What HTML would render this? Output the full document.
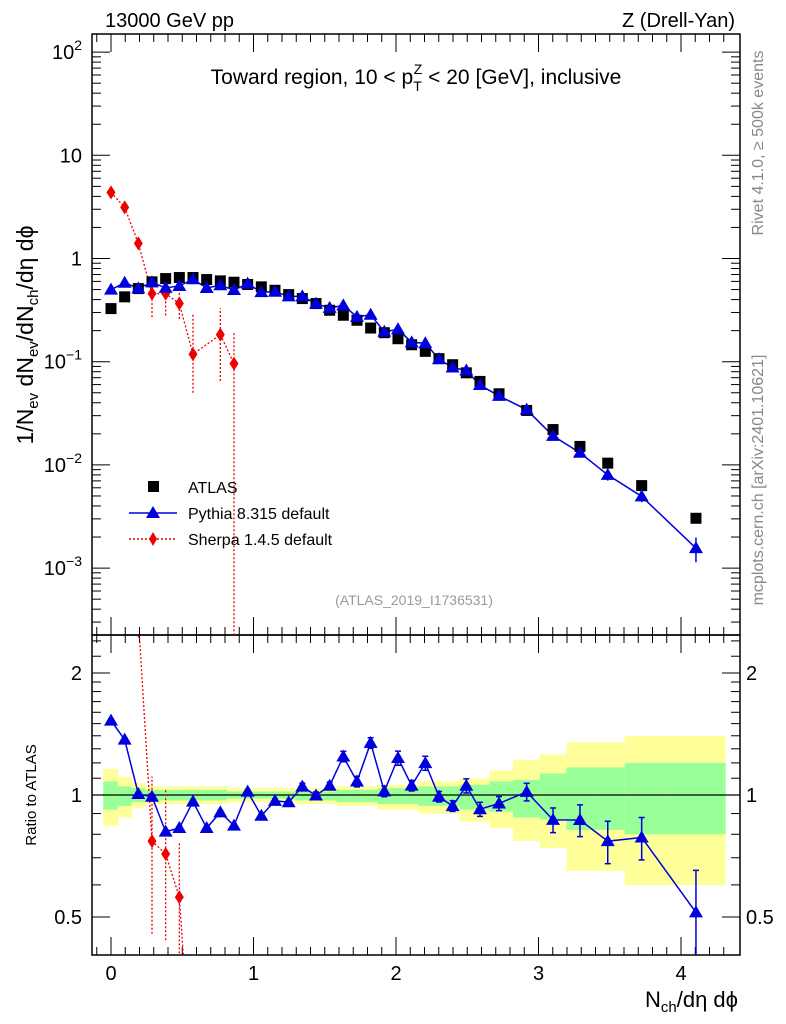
<!DOCTYPE html>
<html><head><meta charset="utf-8">
<style>
html,body{margin:0;padding:0;background:#fff;overflow:hidden;width:786px;height:1024px;}
svg{display:block;font-family:"Liberation Sans","DejaVu Sans",sans-serif;}
</style></head>
<body>
<svg id="chart" width="786" height="1024" viewBox="0 0 786 1024" xmlns="http://www.w3.org/2000/svg">
<g id="bands"></g>
<g id="frames"></g>
<g id="series"></g>
<g id="texts">
<text x="105" y="27" font-size="20">13000 GeV pp</text>
<text x="735" y="27" font-size="20" text-anchor="end">Z (Drell-Yan)</text>
<text x="416" y="84" font-size="21" text-anchor="middle">Toward region, 10 &lt; p<tspan font-size="14" dy="7">T</tspan><tspan font-size="14" dx="-8" dy="-17">Z</tspan><tspan dy="10"> &lt; 20 [GeV], inclusive</tspan></text>
<text transform="translate(33,335) rotate(-90)" font-size="23" text-anchor="middle">1/N<tspan font-size="15" dy="5">ev</tspan><tspan dy="-5"> dN</tspan><tspan font-size="15" dy="5">ev</tspan><tspan dy="-5">/dN</tspan><tspan font-size="15" dy="5">ch</tspan><tspan dy="-5">/dη dϕ</tspan></text>
<text transform="translate(36,795) rotate(-90)" font-size="15" text-anchor="middle">Ratio to ATLAS</text>
<text x="738" y="1007" font-size="22" text-anchor="end">N<tspan font-size="15" dy="5">ch</tspan><tspan dy="-5">/dη dϕ</tspan></text>
<text transform="translate(763,143) rotate(-90)" font-size="16" fill="#888" text-anchor="middle">Rivet 4.1.0, ≥ 500k events</text>
<text transform="translate(763,480) rotate(-90)" font-size="16" fill="#888" text-anchor="middle">mcplots.cern.ch [arXiv:2401.10621]</text>
<text x="414" y="605" font-size="14" fill="#999" text-anchor="middle">(ATLAS_2019_I1736531)</text>
</g>
<g id="legend">
<rect x="148" y="481" width="11" height="11" fill="#000"/>
<text x="188" y="493" font-size="16">ATLAS</text>
<line x1="129" y1="513" x2="177" y2="513" stroke="#0000dd" stroke-width="1.5"/>
<polygon points="153,506 160,518 146,518" fill="#0000dd"/>
<text x="188" y="519" font-size="16">Pythia 8.315 default</text>
<line x1="129" y1="539" x2="177" y2="539" stroke="#ee0000" stroke-width="1.5" stroke-dasharray="2,2"/>
<polygon points="153,532 157,539 153,546 149,539" fill="#ee0000"/>
<text x="188" y="545" font-size="16">Sherpa 1.4.5 default</text>
</g>
</svg>
<script>
const xVals=[0,0.0959,0.1918,0.2877,0.3836,0.4795,0.5754,0.6713,0.7672,0.8631,0.959,1.0549,1.1508,1.2467,1.3426,1.4385,1.5344,1.6303,1.7262,1.8221,1.918,2.0139,2.1098,2.2057,2.3016,2.3975,2.4934,2.5893,2.723,2.917,3.102,3.291,3.486,3.724,4.105];
const atlasVals=[0.327,0.425,0.511,0.594,0.639,0.654,0.654,0.625,0.607,0.589,0.560,0.531,0.492,0.447,0.409,0.366,0.315,0.282,0.252,0.212,0.191,0.167,0.146,0.126,0.107,0.0935,0.078,0.0644,0.0489,0.0337,0.0220,0.0151,0.0104,0.0063,0.00304];
const pythiaVals=[0.499,0.582,0.514,0.588,0.519,0.542,0.630,0.518,0.550,0.495,0.571,0.472,0.476,0.429,0.429,0.365,0.332,0.351,0.272,0.285,0.195,0.206,0.154,0.151,0.106,0.0878,0.0822,0.0594,0.0466,0.0343,0.0191,0.0131,0.0080,0.00495,0.00156];
const pythiaRelErr=[0.01,0.01,0.01,0.01,0.01,0.01,0.01,0.01,0.01,0.01,0.01,0.01,0.01,0.01,0.02,0.02,0.02,0.03,0.03,0.03,0.03,0.04,0.03,0.04,0.03,0.03,0.04,0.04,0.04,0.05,0.07,0.09,0.12,0.12,0.27];
const sherpaIdx=[0,1,2,3,4,5,6,8,9];
const sherpaVals=[4.37,3.13,1.40,0.457,0.457,0.366,0.118,0.183,0.0957];
const sherpaLo=[4.0,2.8,1.25,0.27,0.28,0.26,0.05,0.065,0.0001];
const sherpaHi=[4.7,3.5,1.55,0.66,0.66,0.50,0.29,0.33,0.19];
const yelUp=[.16,.11,.07,.05,.05,.05,.05,.05,.05,.04,.04,.04,.04,.04,.04,.04,.04,.05,.05,.05,.06,.06,.06,.08,.08,.08,.10,.10,.15,.22,.26,.35,.35,.40,.40];
const yelDn=[.16,.12,.07,.05,.05,.05,.05,.05,.05,.04,.04,.04,.04,.04,.05,.05,.05,.06,.06,.06,.08,.08,.08,.10,.10,.10,.14,.14,.17,.23,.26,.35,.35,.40,.40];
const grnUp=[.08,.05,.04,.03,.03,.03,.03,.03,.03,.02,.02,.02,.02,.02,.02,.02,.02,.03,.03,.03,.04,.04,.04,.05,.05,.05,.06,.06,.08,.09,.13,.17,.17,.20,.20];
const grnDn=[.08,.06,.04,.03,.03,.03,.03,.03,.03,.02,.02,.02,.02,.02,.03,.03,.03,.04,.04,.04,.05,.05,.05,.06,.06,.06,.08,.08,.09,.12,.13,.18,.18,.20,.20];
const xTicks=[0,1,2,3,4];
const mainTicks=[2,1,0,-1,-2,-3];
const ratioTicks=[2,1,0.5];

const NS="http://www.w3.org/2000/svg";
const L=92,R=740,MT=34,MB=635,RT=635,RB=955;
function X(v){return 111+v*142.5;}
function Y(v){return 258.5-Math.log10(v)*103.2;}
function YR(r){return 795-Math.log2(r)*122;}
function mk(tag,attrs,parent){const e=document.createElementNS(NS,tag);for(const k in attrs)e.setAttribute(k,attrs[k]);parent.appendChild(e);return e;}
const bands=document.getElementById('bands'),frames=document.getElementById('frames'),series=document.getElementById('series');

const edges=[];
for(let i=0;i<=xVals.length;i++){
  if(i===0)edges.push(xVals[0]-0.0545);
  else if(i===xVals.length)edges.push(4.31);
  else edges.push((xVals[i-1]+xVals[i])/2);
}
const defs=mk('defs',{},document.getElementById('chart'));
const cpM=mk('clipPath',{id:'cm'},defs);mk('rect',{x:L,y:MT,width:R-L,height:MB-MT},cpM);
const cpR=mk('clipPath',{id:'cr'},defs);mk('rect',{x:L,y:RT,width:R-L,height:RB-RT},cpR);

for(let i=0;i<xVals.length;i++){
  const x1=X(edges[i]),x2=X(edges[i+1]);
  const y=mk('rect',{x:x1,y:YR(1+yelUp[i]),width:x2-x1+0.5,height:YR(1-yelDn[i])-YR(1+yelUp[i]),fill:'#ffff99'},bands);
  
  
  const g=mk('rect',{x:x1,y:YR(1+grnUp[i]),width:x2-x1+0.5,height:YR(1-grnDn[i])-YR(1+grnUp[i]),fill:'#99ff99'},bands);
  
  
}
mk('line',{x1:L,y1:YR(1),x2:R,y2:YR(1),stroke:'#000','stroke-width':1.3},frames);

mk('rect',{x:L,y:MT,width:R-L,height:MB-MT,fill:'none',stroke:'#000','stroke-width':1.5},frames);
mk('rect',{x:L,y:RT,width:R-L,height:RB-RT,fill:'none',stroke:'#000','stroke-width':1.5},frames);
for(let v=-0.1;v<=4.35;v+=0.1){
  const vv=Math.round(v*10)/10;const major=Math.abs(vv-Math.round(vv))<1e-6;const len=major?18:8;const x=X(vv);
  if(x<L||x>R)continue;
  [[MT,1],[MB,-1],[RT,1],[RB,-1]].forEach(([y0,d])=>mk('line',{x1:x,y1:y0,x2:x,y2:y0+d*len,stroke:'#000','stroke-width':1},frames));
}
xTicks.forEach(t=>{const e=mk('text',{x:X(t),y:980,'font-size':20,'text-anchor':'middle'},frames);e.textContent=t;
  
  });
for(let d=-4;d<=2;d++){for(let m=1;m<=9;m++){const v=m*Math.pow(10,d);const y=Y(v);if(y<MT||y>MB)continue;const len=m===1?18:9;
  mk('line',{x1:L,y1:y,x2:L+len,y2:y,stroke:'#000'},frames);mk('line',{x1:R,y1:y,x2:R-len,y2:y,stroke:'#000'},frames);}}
mainTicks.forEach(p=>{const y=Y(Math.pow(10,p))+7;let e;
  if(p===1){e=mk('text',{x:82,y:y,'font-size':20,'text-anchor':'end'},frames);e.textContent='10';}
  else if(p===0){e=mk('text',{x:82,y:y,'font-size':20,'text-anchor':'end'},frames);e.textContent='1';}
  else{e=mk('text',{x:82,y:y,'font-size':20,'text-anchor':'end'},frames);
    const t1=mk('tspan',{},e);t1.textContent='10';const t2=mk('tspan',{'font-size':14,dy:-9},e);t2.textContent=p===2?'2':'\u2212'+(-p);}
  
  });
[0.4,0.5,0.6,0.7,0.8,0.9,1,1.1,1.2,1.3,1.4,1.5,1.6,1.7,1.8,1.9,2,2.2,2.4].forEach(v=>{const y=YR(v);if(y<RT||y>RB)return;const len=ratioTicks.includes(v)?18:9;
  mk('line',{x1:L,y1:y,x2:L+len,y2:y,stroke:'#000'},frames);mk('line',{x1:R,y1:y,x2:R-len,y2:y,stroke:'#000'},frames);});
ratioTicks.forEach(v=>{const y=YR(v)+7;
  const a=mk('text',{x:82,y:y,'font-size':20,'text-anchor':'end'},frames);a.textContent=v;
  
  
  const b=mk('text',{x:746,y:y,'font-size':20},frames);b.textContent=v;
  
  });

const gm=mk('g',{'clip-path':'url(#cm)'},series);
const gr=mk('g',{'clip-path':'url(#cr)'},series);
function tri(g,x,y,name){const p=mk('polygon',{points:`${x},${y-7} ${x+7},${y+5} ${x-7},${y+5}`,fill:'#0000dd'},g);
  
  }
function dia(g,x,y,name){const p=mk('polygon',{points:`${x},${y-7} ${x+4.5},${y} ${x},${y+7} ${x-4.5},${y}`,fill:'#ee0000'},g);
  
  }
let sp=sherpaIdx.map((k,j)=>X(xVals[k])+','+Y(sherpaVals[j])).join(' ');
mk('polyline',{points:sp,fill:'none',stroke:'#ee0000','stroke-width':1.3,'stroke-dasharray':'2,2'},gm);
sherpaIdx.forEach((k,j)=>{const x=X(xVals[k]);
  mk('line',{x1:x,y1:Y(sherpaLo[j]),x2:x,y2:Y(sherpaHi[j]),stroke:'#ee0000','stroke-width':1.3,'stroke-dasharray':'2,2'},gm);
  dia(gm,x,Y(sherpaVals[j]),'sherpa-point');});
mk('polyline',{points:xVals.map((x,i)=>X(x)+','+Y(pythiaVals[i])).join(' '),fill:'none',stroke:'#0000dd','stroke-width':1.5},gm);
xVals.forEach((x,i)=>{const px=X(x);
  mk('line',{x1:px,y1:Y(pythiaVals[i]*(1-pythiaRelErr[i])),x2:px,y2:Y(pythiaVals[i]*(1+pythiaRelErr[i])),stroke:'#0000dd','stroke-width':1.5},gm);});
xVals.forEach((x,i)=>{const r=mk('rect',{x:X(x)-5.5,y:Y(atlasVals[i])-5.5,width:11,height:11,fill:'#000'},gm);
  
  });
xVals.forEach((x,i)=>tri(gm,X(x),Y(pythiaVals[i]),'pythia-point'));

const sr=sherpaIdx.map((k,j)=>sherpaVals[j]/atlasVals[k]);
mk('polyline',{points:sherpaIdx.map((k,j)=>X(xVals[k])+','+YR(sr[j])).join(' '),fill:'none',stroke:'#ee0000','stroke-width':1.3,'stroke-dasharray':'2,2'},gr);
sherpaIdx.forEach((k,j)=>{const x=X(xVals[k]);
  if(sr[j]<0.4)return;
  mk('line',{x1:x,y1:YR(sherpaLo[j]/atlasVals[k]),x2:x,y2:YR(sherpaHi[j]/atlasVals[k]),stroke:'#ee0000','stroke-width':1.3,'stroke-dasharray':'2,2'},gr);
  dia(gr,x,YR(sr[j]),'sherpa-ratio-point');});
const pr=xVals.map((x,i)=>pythiaVals[i]/atlasVals[i]);
mk('polyline',{points:xVals.map((x,i)=>X(x)+','+YR(pr[i])).join(' '),fill:'none',stroke:'#0000dd','stroke-width':1.5},gr);
xVals.forEach((x,i)=>{const px=X(x);const lo=YR(pr[i]*(1-pythiaRelErr[i])),hi=YR(pr[i]*(1+pythiaRelErr[i]));
  mk('line',{x1:px,y1:lo,x2:px,y2:hi,stroke:'#0000dd','stroke-width':1.5},gr);
  mk('line',{x1:px-3,y1:lo,x2:px+3,y2:lo,stroke:'#0000dd','stroke-width':1.5},gr);
  mk('line',{x1:px-3,y1:hi,x2:px+3,y2:hi,stroke:'#0000dd','stroke-width':1.5},gr);
  tri(gr,px,YR(pr[i]),'pythia-ratio-point');});
</script>
</body></html>
